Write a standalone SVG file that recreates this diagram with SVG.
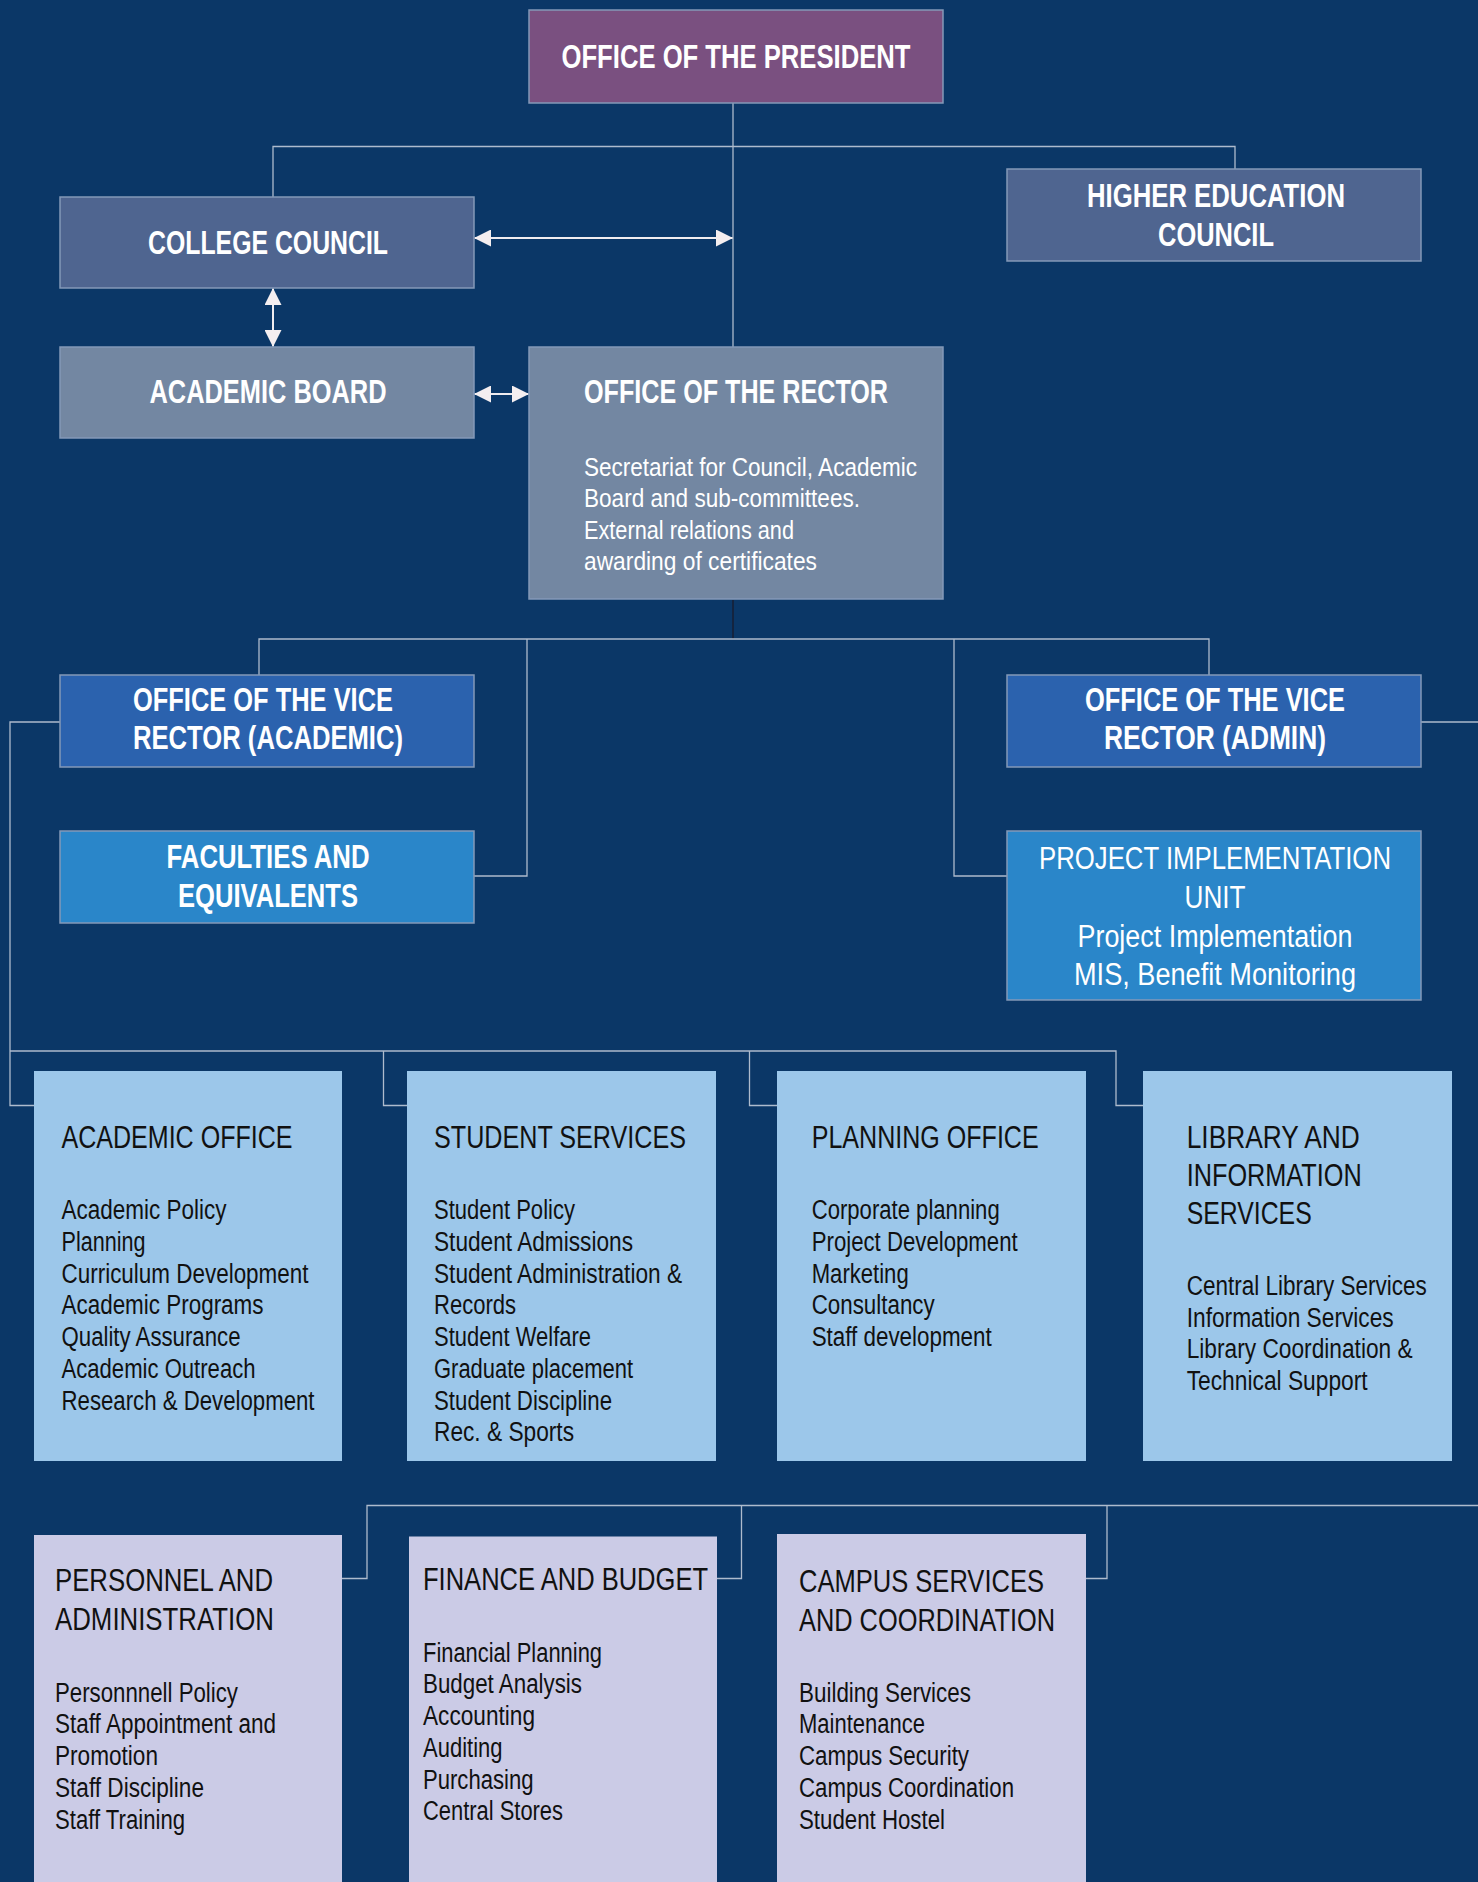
<svg xmlns="http://www.w3.org/2000/svg" width="1478" height="1882" viewBox="0 0 1478 1882">
<style>
.bg{fill:#0B3767}
.box{stroke:#8499B8;stroke-width:1.5}
.pres{fill:#7A5080}
.council{fill:#4F6590}
.board{fill:#7387A2}
.vr{fill:#2B62AE}
.unit{fill:#2A86C9}
.dept{fill:#9CC7EA}
.dept2{fill:#CBCBE6}
text{font-family:"Liberation Sans Narrow","Liberation Sans",Arial,sans-serif}
.tb{font-weight:bold;font-size:33px;fill:#FFFFFF;text-anchor:middle}
.tw{font-size:26px;fill:#FFFFFF}
.tp{font-size:31px;fill:#FFFFFF;text-anchor:middle}
.h{font-size:32px;fill:#111111}
.b{font-size:27px;fill:#111111}
.ln{fill:none;stroke:#AEBBCD;stroke-width:1.3}
.dk{fill:none;stroke:#1B1B2B;stroke-width:1.3}
.ar{fill:none;stroke:#F0ECF0;stroke-width:2;marker-start:url(#ah);marker-end:url(#ah)}
</style>
<defs>
<marker id="ah" markerUnits="userSpaceOnUse" markerWidth="17" markerHeight="17" refX="16.5" refY="8.5" orient="auto-start-reverse" viewBox="0 0 17 17">
<path d="M0,0 L17,8.5 L0,17 z" fill="#F4EEF0"/>
</marker>
</defs>
<rect class="bg" x="0" y="0" width="1478" height="1882"/>

<g id="connectors">
<path class="ln" d="M733,103 V347"/>
<path class="ln" d="M273,197 V146.5 H1235 V169"/>
<path class="ar" d="M474.5,238 H732.5"/>
<path class="ar" d="M273,288.5 V346.5"/>
<path class="ar" d="M474.5,394 H528.5"/>
<path class="dk" d="M733,600 V639"/>
<path class="ln" d="M259,675 V639 H1209 V675"/>
<path class="ln" d="M527,639 V876 H474"/>
<path class="ln" d="M954,639 V876 H1007"/>
<path class="ln" d="M60,722 H10 V1105.5 H34"/>
<path class="ln" d="M1421,722 H1478"/>
<path class="ln" d="M10,1051 H1116 V1105.5 H1143"/>
<path class="ln" d="M383.5,1051 V1105.5 H407"/>
<path class="ln" d="M749.5,1051 V1105.5 H777"/>
<path class="ln" d="M1478,1505.5 H367 V1578.5 H342"/>
<path class="ln" d="M741.5,1505.5 V1578.5 H717"/>
<path class="ln" d="M1107,1505.5 V1578.5 H1086"/>
</g>

<g id="president">
<rect class="box pres" x="529" y="10" width="414" height="93"/>
<text class="tb" x="736" y="68" textLength="349" lengthAdjust="spacingAndGlyphs">OFFICE OF THE PRESIDENT</text>
</g>

<g id="college-council">
<rect class="box council" x="60" y="197" width="414" height="91"/>
<text class="tb" x="268" y="254" textLength="240" lengthAdjust="spacingAndGlyphs">COLLEGE COUNCIL</text>
</g>

<g id="higher-education-council">
<rect class="box council" x="1007" y="169" width="414" height="92"/>
<text class="tb" x="1216" y="207" textLength="258" lengthAdjust="spacingAndGlyphs">HIGHER EDUCATION</text>
<text class="tb" x="1216" y="246" textLength="116" lengthAdjust="spacingAndGlyphs">COUNCIL</text>
</g>

<g id="academic-board">
<rect class="box board" x="60" y="347" width="414" height="91"/>
<text class="tb" x="268" y="403" textLength="237" lengthAdjust="spacingAndGlyphs">ACADEMIC BOARD</text>
</g>

<g id="rector">
<rect class="box board" x="529" y="347" width="414" height="252"/>
<text class="tb" x="584" y="403" style="text-anchor:start" textLength="304" lengthAdjust="spacingAndGlyphs">OFFICE OF THE RECTOR</text>
<text class="tw" x="584" y="476" textLength="333" lengthAdjust="spacingAndGlyphs">Secretariat for Council, Academic</text>
<text class="tw" x="584" y="507" textLength="276" lengthAdjust="spacingAndGlyphs">Board and sub-committees.</text>
<text class="tw" x="584" y="538.5" textLength="210" lengthAdjust="spacingAndGlyphs">External relations and</text>
<text class="tw" x="584" y="570" textLength="233" lengthAdjust="spacingAndGlyphs">awarding of certificates</text>
</g>

<g id="vice-rector-academic">
<rect class="box vr" x="60" y="675" width="414" height="92"/>
<text class="tb" x="263" y="711" textLength="260" lengthAdjust="spacingAndGlyphs">OFFICE OF THE VICE</text>
<text class="tb" x="268" y="749" textLength="270" lengthAdjust="spacingAndGlyphs">RECTOR (ACADEMIC)</text>
</g>

<g id="vice-rector-admin">
<rect class="box vr" x="1007" y="675" width="414" height="92"/>
<text class="tb" x="1215" y="711" textLength="260" lengthAdjust="spacingAndGlyphs">OFFICE OF THE VICE</text>
<text class="tb" x="1215" y="749" textLength="222" lengthAdjust="spacingAndGlyphs">RECTOR (ADMIN)</text>
</g>

<g id="faculties">
<rect class="box unit" x="60" y="831" width="414" height="92"/>
<text class="tb" x="268" y="868" textLength="203" lengthAdjust="spacingAndGlyphs">FACULTIES AND</text>
<text class="tb" x="268" y="907" textLength="180" lengthAdjust="spacingAndGlyphs">EQUIVALENTS</text>
</g>

<g id="project-implementation-unit">
<rect class="box unit" x="1007" y="831" width="414" height="169"/>
<text class="tp" x="1215" y="869" textLength="352" lengthAdjust="spacingAndGlyphs">PROJECT IMPLEMENTATION</text>
<text class="tp" x="1215" y="908" textLength="61" lengthAdjust="spacingAndGlyphs">UNIT</text>
<text class="tp" x="1215" y="947" textLength="275" lengthAdjust="spacingAndGlyphs">Project Implementation</text>
<text class="tp" x="1215" y="985" textLength="282" lengthAdjust="spacingAndGlyphs">MIS, Benefit Monitoring</text>
</g>

<g id="academic-office">
<rect class="dept" x="34" y="1071" width="308" height="390"/>
<text class="h" x="61.5" y="1148" textLength="231" lengthAdjust="spacingAndGlyphs">ACADEMIC OFFICE</text>
<text class="b" x="61.5" y="1219.3" textLength="165" lengthAdjust="spacingAndGlyphs">Academic Policy</text>
<text class="b" x="61.5" y="1251" textLength="84" lengthAdjust="spacingAndGlyphs">Planning</text>
<text class="b" x="61.5" y="1282.7" textLength="247" lengthAdjust="spacingAndGlyphs">Curriculum Development</text>
<text class="b" x="61.5" y="1314.4" textLength="202" lengthAdjust="spacingAndGlyphs">Academic Programs</text>
<text class="b" x="61.5" y="1346.1" textLength="179" lengthAdjust="spacingAndGlyphs">Quality Assurance</text>
<text class="b" x="61.5" y="1377.8" textLength="194" lengthAdjust="spacingAndGlyphs">Academic Outreach</text>
<text class="b" x="61.5" y="1409.5" textLength="253" lengthAdjust="spacingAndGlyphs">Research &amp; Development</text>
</g>

<g id="student-services">
<rect class="dept" x="407" y="1071" width="309" height="390"/>
<text class="h" x="434" y="1148" textLength="252" lengthAdjust="spacingAndGlyphs">STUDENT SERVICES</text>
<text class="b" x="434" y="1219.3" textLength="141" lengthAdjust="spacingAndGlyphs">Student Policy</text>
<text class="b" x="434" y="1251" textLength="199" lengthAdjust="spacingAndGlyphs">Student Admissions</text>
<text class="b" x="434" y="1282.7" textLength="248" lengthAdjust="spacingAndGlyphs">Student Administration &amp;</text>
<text class="b" x="434" y="1314.4" textLength="82" lengthAdjust="spacingAndGlyphs">Records</text>
<text class="b" x="434" y="1346.1" textLength="157" lengthAdjust="spacingAndGlyphs">Student Welfare</text>
<text class="b" x="434" y="1377.8" textLength="199" lengthAdjust="spacingAndGlyphs">Graduate placement</text>
<text class="b" x="434" y="1409.5" textLength="178" lengthAdjust="spacingAndGlyphs">Student Discipline</text>
<text class="b" x="434" y="1441.2" textLength="140" lengthAdjust="spacingAndGlyphs">Rec. &amp; Sports</text>
</g>

<g id="planning-office">
<rect class="dept" x="777" y="1071" width="309" height="390"/>
<text class="h" x="811.7" y="1148" textLength="227" lengthAdjust="spacingAndGlyphs">PLANNING OFFICE</text>
<text class="b" x="811.7" y="1219.3" textLength="188" lengthAdjust="spacingAndGlyphs">Corporate planning</text>
<text class="b" x="811.7" y="1251" textLength="206" lengthAdjust="spacingAndGlyphs">Project Development</text>
<text class="b" x="811.7" y="1282.7" textLength="97" lengthAdjust="spacingAndGlyphs">Marketing</text>
<text class="b" x="811.7" y="1314.4" textLength="123" lengthAdjust="spacingAndGlyphs">Consultancy</text>
<text class="b" x="811.7" y="1346.1" textLength="180" lengthAdjust="spacingAndGlyphs">Staff development</text>
</g>

<g id="library">
<rect class="dept" x="1143" y="1071" width="309" height="390"/>
<text class="h" x="1186.7" y="1148" textLength="173" lengthAdjust="spacingAndGlyphs">LIBRARY AND</text>
<text class="h" x="1186.7" y="1186" textLength="175" lengthAdjust="spacingAndGlyphs">INFORMATION</text>
<text class="h" x="1186.7" y="1224" textLength="125" lengthAdjust="spacingAndGlyphs">SERVICES</text>
<text class="b" x="1186.7" y="1295" textLength="240" lengthAdjust="spacingAndGlyphs">Central Library Services</text>
<text class="b" x="1186.7" y="1326.7" textLength="207" lengthAdjust="spacingAndGlyphs">Information Services</text>
<text class="b" x="1186.7" y="1358.4" textLength="226" lengthAdjust="spacingAndGlyphs">Library Coordination &amp;</text>
<text class="b" x="1186.7" y="1390.1" textLength="181" lengthAdjust="spacingAndGlyphs">Technical Support</text>
</g>

<g id="personnel">
<rect class="dept2" x="34" y="1535" width="308" height="360"/>
<text class="h" x="55" y="1591" textLength="218" lengthAdjust="spacingAndGlyphs">PERSONNEL AND</text>
<text class="h" x="55" y="1630" textLength="219" lengthAdjust="spacingAndGlyphs">ADMINISTRATION</text>
<text class="b" x="55" y="1701.7" textLength="183" lengthAdjust="spacingAndGlyphs">Personnnell Policy</text>
<text class="b" x="55" y="1733.4" textLength="221" lengthAdjust="spacingAndGlyphs">Staff Appointment and</text>
<text class="b" x="55" y="1765.1" textLength="103" lengthAdjust="spacingAndGlyphs">Promotion</text>
<text class="b" x="55" y="1796.8" textLength="149" lengthAdjust="spacingAndGlyphs">Staff Discipline</text>
<text class="b" x="55" y="1828.5" textLength="130" lengthAdjust="spacingAndGlyphs">Staff Training</text>
</g>

<g id="finance">
<rect class="dept2" x="409" y="1536.5" width="308" height="360"/>
<text class="h" x="423" y="1590" textLength="285" lengthAdjust="spacingAndGlyphs">FINANCE AND BUDGET</text>
<text class="b" x="423" y="1661.7" textLength="179" lengthAdjust="spacingAndGlyphs">Financial Planning</text>
<text class="b" x="423" y="1693.4" textLength="159" lengthAdjust="spacingAndGlyphs">Budget Analysis</text>
<text class="b" x="423" y="1725.1" textLength="112" lengthAdjust="spacingAndGlyphs">Accounting</text>
<text class="b" x="423" y="1756.8" textLength="79.5" lengthAdjust="spacingAndGlyphs">Auditing</text>
<text class="b" x="423" y="1788.5" textLength="110.5" lengthAdjust="spacingAndGlyphs">Purchasing</text>
<text class="b" x="423" y="1820.2" textLength="140" lengthAdjust="spacingAndGlyphs">Central Stores</text>
</g>

<g id="campus-services">
<rect class="dept2" x="777" y="1534" width="309" height="360"/>
<text class="h" x="799" y="1591.5" textLength="245" lengthAdjust="spacingAndGlyphs">CAMPUS SERVICES</text>
<text class="h" x="799" y="1630.5" textLength="256" lengthAdjust="spacingAndGlyphs">AND COORDINATION</text>
<text class="b" x="799" y="1701.7" textLength="172" lengthAdjust="spacingAndGlyphs">Building Services</text>
<text class="b" x="799" y="1733.4" textLength="126" lengthAdjust="spacingAndGlyphs">Maintenance</text>
<text class="b" x="799" y="1765.1" textLength="170" lengthAdjust="spacingAndGlyphs">Campus Security</text>
<text class="b" x="799" y="1796.8" textLength="215" lengthAdjust="spacingAndGlyphs">Campus Coordination</text>
<text class="b" x="799" y="1828.5" textLength="146" lengthAdjust="spacingAndGlyphs">Student Hostel</text>
</g>
</svg>
